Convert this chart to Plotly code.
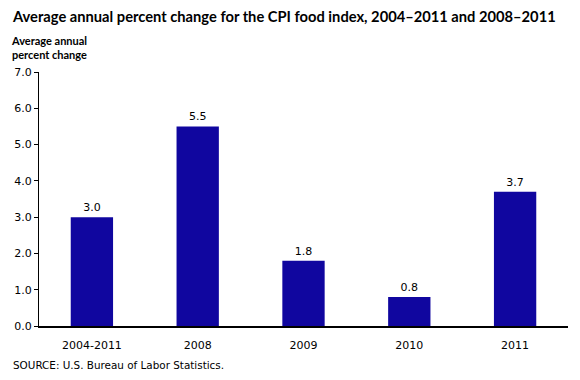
import plotly.graph_objects as go

categories = ["2004-2011", "2008", "2009", "2010", "2011"]
values = [3.0, 5.5, 1.8, 0.8, 3.7]
y_ticks = [0, 1, 2, 3, 4, 5, 6, 7]
y_tick_labels = ["0.0", "1.0", "2.0", "3.0", "4.0", "5.0", "6.0", "7.0"]

fig = go.Figure()
fig.add_trace(go.Bar(
    x=categories, y=values, width=0.4,
    marker=dict(color="#10069F", line=dict(width=0)),
    text=[f"{v:.1f}" for v in values], textposition="outside",
    textfont=dict(family="DejaVu Sans", size=11, color="#000000"),
    cliponaxis=False,
))

fig.update_layout(
    width=580, height=380,
    margin=dict(l=39, r=12, t=72, b=54, autoexpand=False),
    paper_bgcolor="white", plot_bgcolor="white",
    showlegend=False, bargap=0.6,
    title=dict(text="<b>Average annual percent change for the CPI food index, 2004\u20132011 and 2008\u20132011</b>",
               x=13/580, xanchor="left", y=1 - 17/380, yanchor="middle",
               font=dict(family="Lato", size=14.7, color="#000000")),
    font=dict(family="DejaVu Sans", size=11, color="#000000"),
)
fig.update_xaxes(showline=True, linecolor="#000000", linewidth=1.5,
                 ticks="outside", ticklen=8, tickcolor="rgba(0,0,0,0)",
                 tickfont=dict(family="DejaVu Sans", size=11), showgrid=False,
                 automargin=False)
fig.update_yaxes(range=[0, 7], tickvals=y_ticks, ticktext=y_tick_labels,
                 showline=True, linecolor="#000000", linewidth=1,
                 ticks="outside", ticklen=4, tickcolor="#000000",
                 tickfont=dict(family="DejaVu Sans", size=11),
                 showgrid=False, zeroline=False, automargin=False)

fig.add_annotation(text="<b>Average annual<br>percent change</b>", xref="paper", yref="paper",
                   x=-30/529, y=1 + 40/254, xanchor="left", yanchor="top", align="left",
                   showarrow=False, font=dict(family="Lato", size=11, color="#000000"))
fig.add_annotation(text="SOURCE: U.S. Bureau of Labor Statistics.", xref="paper", yref="paper",
                   x=-28/529, y=-31/254, xanchor="left", yanchor="top", align="left",
                   showarrow=False, font=dict(family="DejaVu Sans", size=10.4, color="#000000"))

fig.write_html("out.html", config={"displayModeBar": False},
               post_script="document.body.style.margin='0px';")
